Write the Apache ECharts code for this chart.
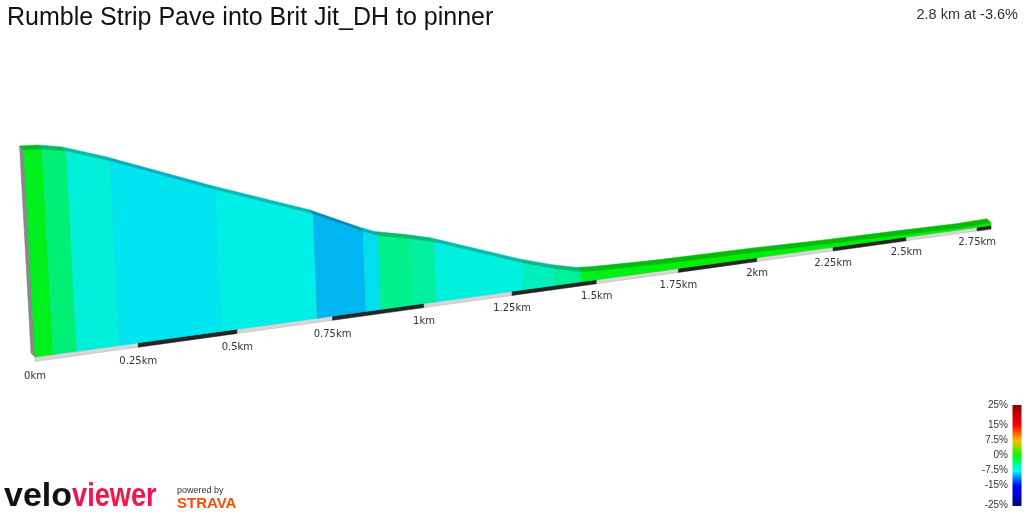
<!DOCTYPE html>
<html>
<head>
<meta charset="utf-8">
<script src="https://cdn.jsdelivr.net/npm/echarts@6/dist/echarts.min.js"></script>
<style>
  html, body { margin: 0; padding: 0; background: #fff; }
  #chart { width: 1024px; height: 512px; }
</style>
</head>
<body>
<div id="chart"></div>
<script>
// profile points (distance in km, elevation in m)
const distKm = [0, 0.043, 0.100, 0.203, 0.461, 0.709, 0.840, 0.881, 0.967, 1.034, 1.285,
  1.379, 1.453, 1.501, 1.678, 1.743, 2.000, 2.240, 2.496, 2.689, 2.800];
const elevM = [402.5, 402.1, 400.0, 393.0, 372.8, 354.8, 342.6, 339.3, 335.6, 332.3, 314.7,
  309.2, 305.7, 305.1, 304.0, 303.8, 303.3, 302.3, 301.8, 301.2, 301.7];
const floorM = 300;

// distance markers along the base
const tickKm = [0, 0.25, 0.5, 0.75, 1, 1.25, 1.5, 1.75, 2, 2.25, 2.5, 2.75];
const tickLabels = ['0km', '0.25km', '0.5km', '0.75km', '1km', '1.25km', '1.5km',
  '1.75km', '2km', '2.25km', '2.5km', '2.75km'];

// gradient colour scale (legend)
const gradeTicks = [25, 15, 7.5, 0, -7.5, -15, -25];
const gradeTickLabels = ['25%', '15%', '7.5%', '0%', '-7.5%', '-15%', '-25%'];
const gradeColors = ['#8b0000', '#ff0000', '#ffbb00', '#00ff00', '#00ffff', '#0000ff', '#00008b'];

const title = 'Rumble Strip Pave into Brit Jit_DH to pinner';

// view settings (fake 3d)
const K = 0.084;          // perspective shrink per km
const TILT = 0.1376;      // base line rise per px
const SHEAR0 = 0.055, SHEAR1 = 0.022;
const DEPTH = [-4, -4];
const SLAB = 4.5;

const dEnd = distKm[distKm.length - 1];
const totalGrade = (elevM[elevM.length - 1] - elevM[0]) / (dEnd * 1000) * 100;

function hexRgb(h) {
  return [parseInt(h.slice(1, 3), 16), parseInt(h.slice(3, 5), 16), parseInt(h.slice(5, 7), 16)];
}
function gradeRgb(g) {
  g = Math.max(-25, Math.min(25, g));
  for (let i = 0; i < gradeTicks.length - 1; i++) {
    const a = gradeTicks[i], b = gradeTicks[i + 1];
    if (g <= a && g >= b) {
      const t = (a - g) / (a - b);
      const c0 = hexRgb(gradeColors[i]), c1 = hexRgb(gradeColors[i + 1]);
      return c0.map((v, k) => v + (c1[k] - v) * t);
    }
  }
  return hexRgb(gradeColors[3]);
}
function shade(rgb, f) {
  return 'rgb(' + rgb.map(v => Math.round(Math.min(255, v * f))).join(',') + ')';
}

function project(api, d, e, back) {
  const w = d * (1 + K * dEnd) / (1 + K * d);
  const s = 1 / (1 + K * d);
  const foot = api.coord([w, floorM]);
  const origin = api.coord([0, floorM]);
  const yb = foot[1] - TILT * (foot[0] - origin[0]);
  const hp = (foot[1] - api.coord([w, e])[1]) * s;
  const shear = SHEAR0 - SHEAR1 * d;
  return [foot[0] - shear * hp + (back ? DEPTH[0] : 0), yb - hp + (back ? DEPTH[1] : 0)];
}

const segments = [];
for (let i = 0; i < distKm.length - 1; i++) {
  const g = (elevM[i + 1] - elevM[i]) / ((distKm[i + 1] - distKm[i]) * 1000) * 100;
  segments.push([distKm[i], elevM[i], distKm[i + 1], elevM[i + 1], g]);
}

const slabData = tickKm.map((d, i) => [d, Math.min(tickKm[i + 1] || dEnd, dEnd), i % 2]);

function renderProfile(params, api) {
  const d0 = api.value(0), e0 = api.value(1), d1 = api.value(2), e1 = api.value(3);
  const rgb = gradeRgb(api.value(4));
  const f0 = project(api, d0, floorM, false), f1 = project(api, d1, floorM, false);
  const t0 = project(api, d0, e0, false), t1 = project(api, d1, e1, false);
  const b0 = project(api, d0, e0, true), b1 = project(api, d1, e1, true);
  const children = [];
  if (params.dataIndex === 0) {
    const bf = project(api, d0, floorM, true);
    children.push({
      type: 'polygon',
      shape: { points: [f0, t0, b0, bf] },
      style: { fill: '#8a8a8a', stroke: '#777', lineWidth: 0.5 }
    });
  }
  children.push({
    type: 'polygon',
    shape: { points: [f0, f1, t1, t0] },
    style: { fill: shade(rgb, 0.94), stroke: shade(rgb, 0.88), lineWidth: 0.5 }
  });
  children.push({
    type: 'polygon',
    shape: { points: [t0, t1, b1, b0] },
    style: { fill: shade(rgb, 0.74), stroke: shade(rgb, 0.7), lineWidth: 0.5 }
  });
  return { type: 'group', children: children };
}

function renderSlab(params, api) {
  const d0 = api.value(0), d1 = api.value(1);
  const p0 = project(api, d0, floorM, false), p1 = project(api, d1, floorM, false);
  const s0 = SLAB / (1 + K * d0), s1 = SLAB / (1 + K * d1);
  const dark = api.value(2) === 1;
  return {
    type: 'polygon',
    shape: { points: [p0, p1, [p1[0], p1[1] + s1], [p0[0], p0[1] + s0]] },
    style: { fill: dark ? '#262626' : '#d6d6d6', stroke: dark ? '#1a1a1a' : '#b5b5b5', lineWidth: 0.5 }
  };
}

function renderTick(params, api) {
  const d = api.value(0);
  const p = project(api, d, floorM, false);
  return {
    type: 'text',
    style: {
      text: tickLabels[params.dataIndex],
      x: p[0], y: p[1] + 19 / (1 + K * d),
      align: 'center', verticalAlign: 'middle',
      font: '10px "DejaVu Sans"', fill: '#333'
    }
  };
}

// legend bar
const barTop = 405, barH = 101, barX = 1012.5, barW = 9;
const legendGraphics = [{
  type: 'rect',
  shape: { x: barX, y: barTop, width: barW, height: barH },
  style: {
    fill: new echarts.graphic.LinearGradient(0, 0, 0, 1,
      gradeTicks.map((g, i) => ({ offset: (25 - g) / 50, color: gradeColors[i] })))
  }
}];
gradeTicks.forEach((g, i) => {
  legendGraphics.push({
    type: 'text',
    style: {
      text: gradeTickLabels[i],
      x: 1008, y: barTop + (25 - g) / 50 * (barH - 1),
      align: 'right', verticalAlign: 'middle',
      font: '10px "Liberation Sans"', fill: '#333'
    }
  });
});

const logoGraphics = [
  { type: 'text', style: { text: 'velo', x: 4, y: 497, verticalAlign: 'middle',
      font: 'bold 34px "Liberation Sans"', fill: '#111' } },
  { type: 'text', x: 72, scaleX: 0.8, style: { text: 'viewer', x: 0, y: 497, verticalAlign: 'middle',
      font: 'bold 34px "Liberation Sans"', fill: '#f5134b' } },
  { type: 'text', style: { text: 'powered by', x: 177, y: 491, verticalAlign: 'middle',
      font: '9px "Liberation Sans"', fill: '#333' } },
  { type: 'text', style: { text: 'STRAVA', x: 177, y: 503.5, verticalAlign: 'middle',
      font: 'bold 15px "Liberation Sans"', fill: '#fc4c02' } }
];

const chart = echarts.init(document.getElementById('chart'));
chart.setOption({
  animation: false,
  title: [{
    text: title,
    left: 2, top: 1,
    textStyle: { fontFamily: 'Liberation Sans', fontSize: 25, fontWeight: 'normal', color: '#111' }
  }, {
    text: dEnd.toFixed(1) + ' km at ' + totalGrade.toFixed(1) + '%',
    right: 1, top: 2,
    textStyle: { fontFamily: 'Liberation Sans', fontSize: 14.5, fontWeight: 'normal', color: '#333' }
  }],
  grid: { left: 35, right: 33, top: 357 - 110 * 2.02, bottom: 155 },
  xAxis: { type: 'value', min: 0, max: dEnd, show: false },
  yAxis: { type: 'value', min: floorM, max: 410, show: false },
  series: [{
    type: 'custom',
    renderItem: renderSlab,
    encode: { x: [0, 1] },
    data: slabData
  }, {
    type: 'custom',
    renderItem: renderProfile,
    encode: { x: [0, 2], y: [1, 3] },
    data: segments
  }, {
    type: 'custom',
    renderItem: renderTick,
    encode: { x: 0 },
    data: tickKm.map(d => [d])
  }],
  graphic: legendGraphics.concat(logoGraphics)
});
</script>
</body>
</html>
